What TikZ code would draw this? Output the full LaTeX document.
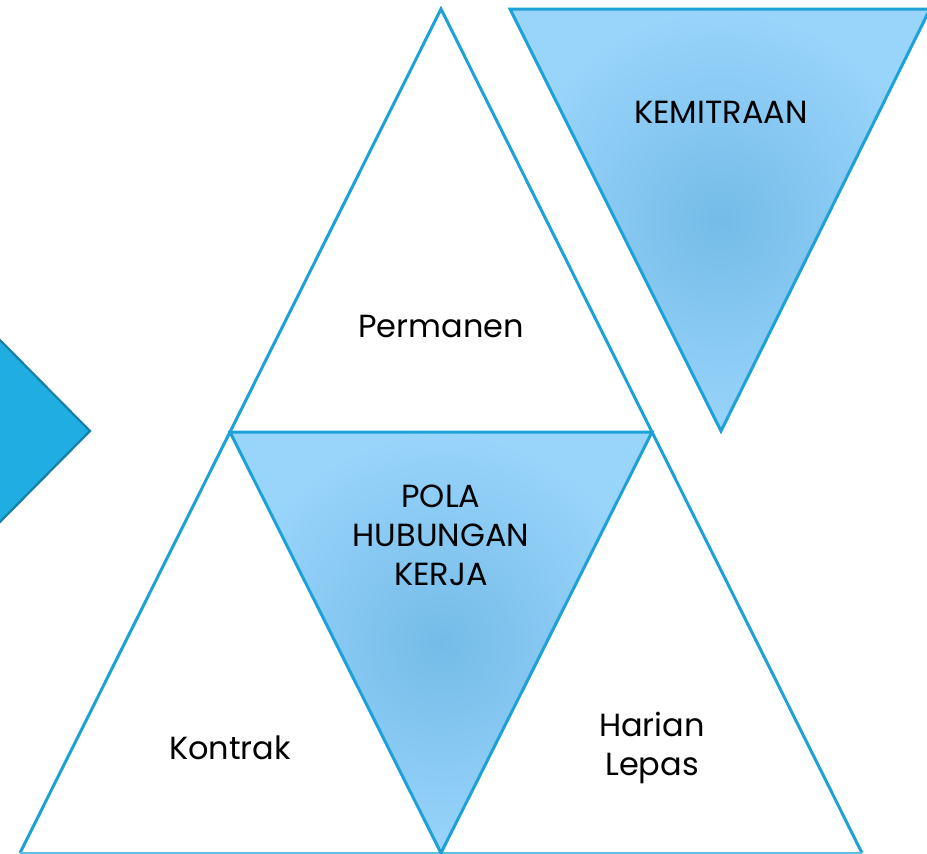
\documentclass[tikz,border=0pt]{standalone}
\usepackage{fontspec}
\setmainfont{Poppins}
\begin{document}
\begin{tikzpicture}[x=1pt,y=-1pt,
  edge/.style={draw=lineblue,line width=3pt,line join=miter},
  blueinv/.style={edge,inner color=midblue,outer color=lightblue},
  lbl/.style={font=\fontsize{32}{39}\selectfont,align=center,text=black}]
\definecolor{lineblue}{HTML}{1DA1D6}
\definecolor{lightblue}{HTML}{99D4FB}
\definecolor{midblue}{HTML}{74BCE8}
\definecolor{arrowfill}{HTML}{1FADE2}
\definecolor{arrowline}{HTML}{167FA6}
\useasboundingbox (0,0) rectangle (927,854);
% coordinates
\coordinate (A) at (441,9);
\coordinate (L) at (230,432);
\coordinate (R) at (652,432);
\coordinate (BL) at (20,853);
\coordinate (BM) at (441,853);
\coordinate (BR) at (862,853);
\coordinate (K1) at (510,9);
\coordinate (K2) at (930,9);
\coordinate (K3) at (721,431);
\coordinate (P1) at (-5,335);
\coordinate (P2) at (90,431);
\coordinate (P3) at (-5,527);
% left arrow shape
\fill[arrowfill,draw=arrowline,line width=2.2pt] (P1) -- (P2) -- (P3) -- cycle;
% outer triangles
\draw[edge] (L) -- (A) -- (R);
\draw[edge] (BL) -- (L);
\draw[edge] (R) -- (BR);
\draw[draw=lineblue!70,line width=1.5pt] (BL) -- (BR);
% middle inverted triangle
\path[blueinv] (L) -- (R) -- (BM) -- cycle;
% kemitraan
\path[blueinv] (K1) -- (K2) -- (K3) -- cycle;
% labels
\node[lbl] (perm) at (441,326) {Permanen};
\node[lbl] (kem) at (721,112) {KEMITRAAN};
\node[lbl] (pola) at (441,535) {POLA\\HUBUNGAN\\KERJA};
\node[lbl] (kon) at (230,748) {Kontrak};
\node[lbl] (har) at (652,748) {Harian\\Lepas};
\end{tikzpicture}
\end{document}
